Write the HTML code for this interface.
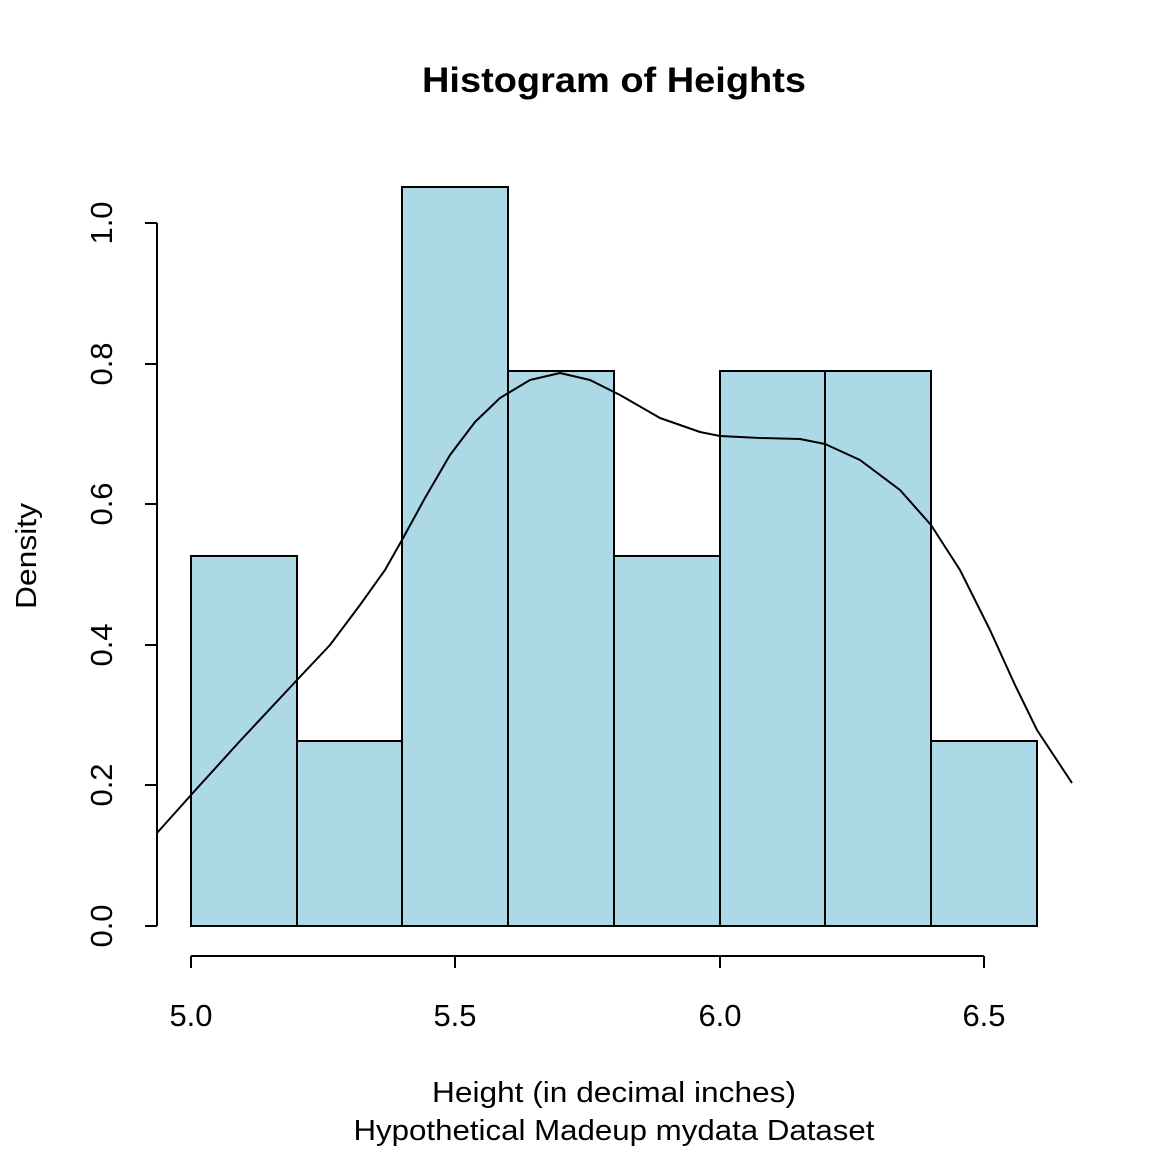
<!DOCTYPE html>
<html><head><meta charset="utf-8"><style>body{margin:0;background:#fff}svg{display:block}</style></head><body>
<svg width="1152" height="1152" xmlns="http://www.w3.org/2000/svg" font-family="Liberation Sans, Arial, sans-serif">
<rect width="1152" height="1152" fill="#fff"/>
<text x="614" y="92" text-anchor="middle" font-size="35" font-weight="bold" textLength="384" lengthAdjust="spacingAndGlyphs">Histogram of Heights</text>
<g fill="#add8e6" stroke="#000" stroke-width="2">
<rect x="191" y="556" width="106" height="370"/>
<rect x="297" y="741" width="105" height="185"/>
<rect x="402" y="187" width="106" height="739"/>
<rect x="508" y="371" width="106" height="555"/>
<rect x="614" y="556" width="106" height="370"/>
<rect x="720" y="371" width="105" height="555"/>
<rect x="825" y="371" width="106" height="555"/>
<rect x="931" y="741" width="106" height="185"/>
</g>
<g stroke="#000" stroke-width="2" fill="none">
<path d="M157 223V926M157 926H145M157 785H145M157 645H145M157 504H145M157 364H145M157 223H145"/>
<path d="M191 956H984M191 956V968M455 956V968M720 956V968M984 956V968"/>
<polyline stroke-linejoin="round" points="157,833 191,795 240,741 297,680 330,645 360,605 385,570 402,540 425,498 450,455 475,422 500,398 530,380 560,373 590,380 620,395 660,418 700,432 720,436 760,438 800,439 825,444 860,460 900,490 931,525 960,570 990,630 1015,685 1037,730 1072,783"/>
</g>
<g font-size="31" text-anchor="middle">
<text x="191" y="1026">5.0</text><text x="455" y="1026">5.5</text><text x="720" y="1026">6.0</text><text x="984" y="1026">6.5</text>
<g transform="translate(112 926) rotate(-90)"><text>0.0</text></g>
<g transform="translate(112 785) rotate(-90)"><text>0.2</text></g>
<g transform="translate(112 645) rotate(-90)"><text>0.4</text></g>
<g transform="translate(112 504) rotate(-90)"><text>0.6</text></g>
<g transform="translate(112 364) rotate(-90)"><text>0.8</text></g>
<g transform="translate(112 223) rotate(-90)"><text>1.0</text></g>
</g>
<g font-size="29" text-anchor="middle">
<g transform="translate(36 556) rotate(-90)"><text textLength="106" lengthAdjust="spacingAndGlyphs">Density</text></g>
<text x="614" y="1102" textLength="364" lengthAdjust="spacingAndGlyphs">Height (in decimal inches)</text>
<text x="614" y="1140" textLength="521" lengthAdjust="spacingAndGlyphs">Hypothetical Madeup mydata Dataset</text>
</g>
</svg>
</body></html>
